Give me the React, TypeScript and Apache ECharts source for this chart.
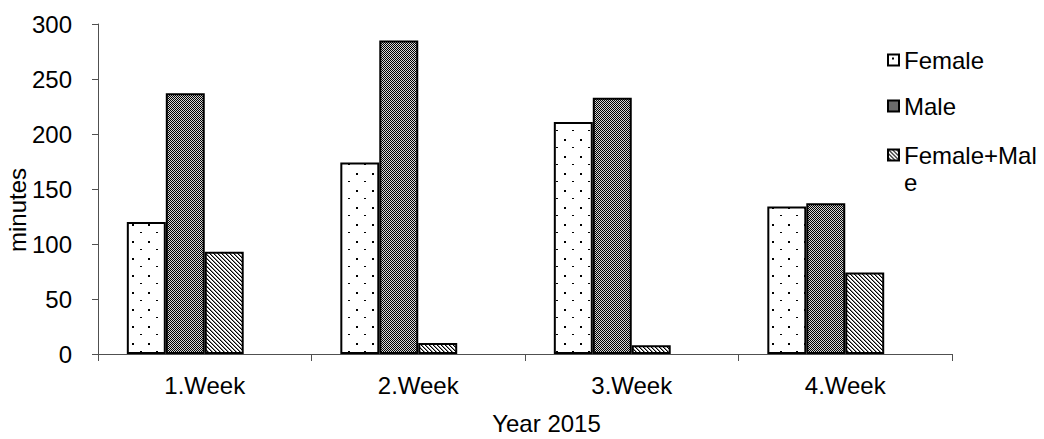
import React, { useEffect, useRef } from 'react';
import * as echarts from 'echarts';

// Weekly minutes by group, year 2015
const weeks = ['1.Week', '2.Week', '3.Week', '4.Week'];
const femaleMinutes = [120, 174, 211, 134];
const maleMinutes = [237, 285, 233, 137];
const combinedMinutes = [93, 10, 8, 74];
const seriesNames = ['Female', 'Male', 'Female+Male'];
const yMin = 0;
const yMax = 300;
const yStep = 50;

const FONT = '"Liberation Sans", Arial, sans-serif';

function makeTile(w: number, h: number, draw: (ctx: CanvasRenderingContext2D) => void) {
  const c = document.createElement('canvas');
  c.width = w;
  c.height = h;
  const ctx = c.getContext('2d')!;
  ctx.fillStyle = '#ffffff';
  ctx.fillRect(0, 0, w, h);
  draw(ctx);
  return c;
}

// sparse staggered dots
function dotPattern() {
  const tile = makeTile(16, 17, (ctx) => {
    ctx.fillStyle = '#000000';
    ctx.fillRect(4, 3, 2, 2);
    ctx.fillRect(12, 11, 2, 1);
  });
  return { image: tile, repeat: 'repeat' as const };
}

// fine 1px checkerboard
function checkerPattern() {
  const tile = makeTile(2, 2, (ctx) => {
    ctx.fillStyle = '#000000';
    ctx.fillRect(0, 0, 1, 1);
    ctx.fillRect(1, 1, 1, 1);
    ctx.fillStyle = '#d6d6d6';
    ctx.fillRect(1, 0, 1, 1);
    ctx.fillRect(0, 1, 1, 1);
  });
  return { image: tile, repeat: 'repeat' as const };
}

// narrow downward diagonal hatching
function hatchPattern() {
  const tile = makeTile(4, 4, (ctx) => {
    for (let i = 0; i < 4; i++) {
      ctx.fillStyle = '#000000';
      ctx.fillRect(i, i, 1, 1);
      ctx.fillStyle = '#8c8c8c';
      ctx.fillRect((i + 1) % 4, i, 1, 1);
    }
  });
  return { image: tile, repeat: 'repeat' as const };
}

export default function App() {
  const ref = useRef<HTMLDivElement>(null);

  useEffect(() => {
    if (!ref.current) return;
    const chart = echarts.init(ref.current, undefined, { renderer: 'svg' });

    const barBase = {
      type: 'bar' as const,
      barGap: '0%',
      barCategoryGap: '27%',
    };
    const border = { borderColor: '#000000', borderWidth: 2 };
    const axisColor = '#505050';
    const textBase = { color: '#000000', fontFamily: FONT, fontSize: 24 };

    chart.setOption({
      animation: false,
      backgroundColor: '#ffffff',
      grid: { left: 98, right: 92, top: 24, bottom: 85, outerBoundsMode: 'none' },
      legend: [
        {
          data: [seriesNames[0], seriesNames[1]],
          orient: 'vertical',
          left: 887,
          top: 46.5,
          padding: 0,
          itemGap: 19,
          itemWidth: 11,
          itemHeight: 11,
          icon: 'rect',
          textStyle: { ...textBase, lineHeight: 27 },
        },
        {
          // leading empty line keeps the icon level with the first text line
          data: [seriesNames[2]],
          orient: 'vertical',
          left: 887,
          top: 114.5,
          padding: 0,
          itemWidth: 11,
          itemHeight: 11,
          icon: 'rect',
          formatter: '\n{name}',
          textStyle: {
            ...textBase,
            lineHeight: 27,
            width: 138,
            overflow: 'breakAll',
          },
        },
      ],
      xAxis: {
        type: 'category',
        data: weeks,
        name: 'Year 2015',
        nameLocation: 'middle',
        nameGap: 57,
        nameMoveOverlap: false,
        nameTextStyle: { ...textBase, padding: [0, 0, 0, 43] },
        axisLine: { show: true, lineStyle: { color: axisColor, width: 1 } },
        axisTick: { show: true, length: 7, lineStyle: { color: axisColor } },
        axisLabel: { ...textBase, margin: 19 },
        splitLine: { show: false },
      },
      yAxis: {
        type: 'value',
        min: yMin,
        max: yMax,
        interval: yStep,
        name: 'minutes',
        nameLocation: 'middle',
        nameRotate: 90,
        nameGap: 69,
        nameMoveOverlap: false,
        nameTextStyle: { ...textBase, padding: [0, 42, 0, 0] },
        axisLine: { show: true, lineStyle: { color: axisColor, width: 1 } },
        axisTick: { show: true, length: 6, lineStyle: { color: axisColor } },
        axisLabel: { ...textBase, margin: 26 },
        splitLine: { show: false },
      },
      series: [
        {
          ...barBase,
          name: seriesNames[0],
          data: femaleMinutes,
          itemStyle: { color: dotPattern(), ...border },
        },
        {
          ...barBase,
          name: seriesNames[1],
          data: maleMinutes,
          itemStyle: { color: checkerPattern(), ...border },
        },
        {
          ...barBase,
          name: seriesNames[2],
          data: combinedMinutes,
          itemStyle: { color: hatchPattern(), ...border },
        },
        {
          // empty fourth slot in each cluster
          ...barBase,
          name: 'slot',
          data: weeks.map(() => '-'),
          silent: true,
        },
      ],
    });

    return () => chart.dispose();
  }, []);

  return (
    <div
      ref={ref}
      style={{ position: 'fixed', left: 0, top: 0, width: 1044, height: 439, background: '#fff' }}
    />
  );
}
